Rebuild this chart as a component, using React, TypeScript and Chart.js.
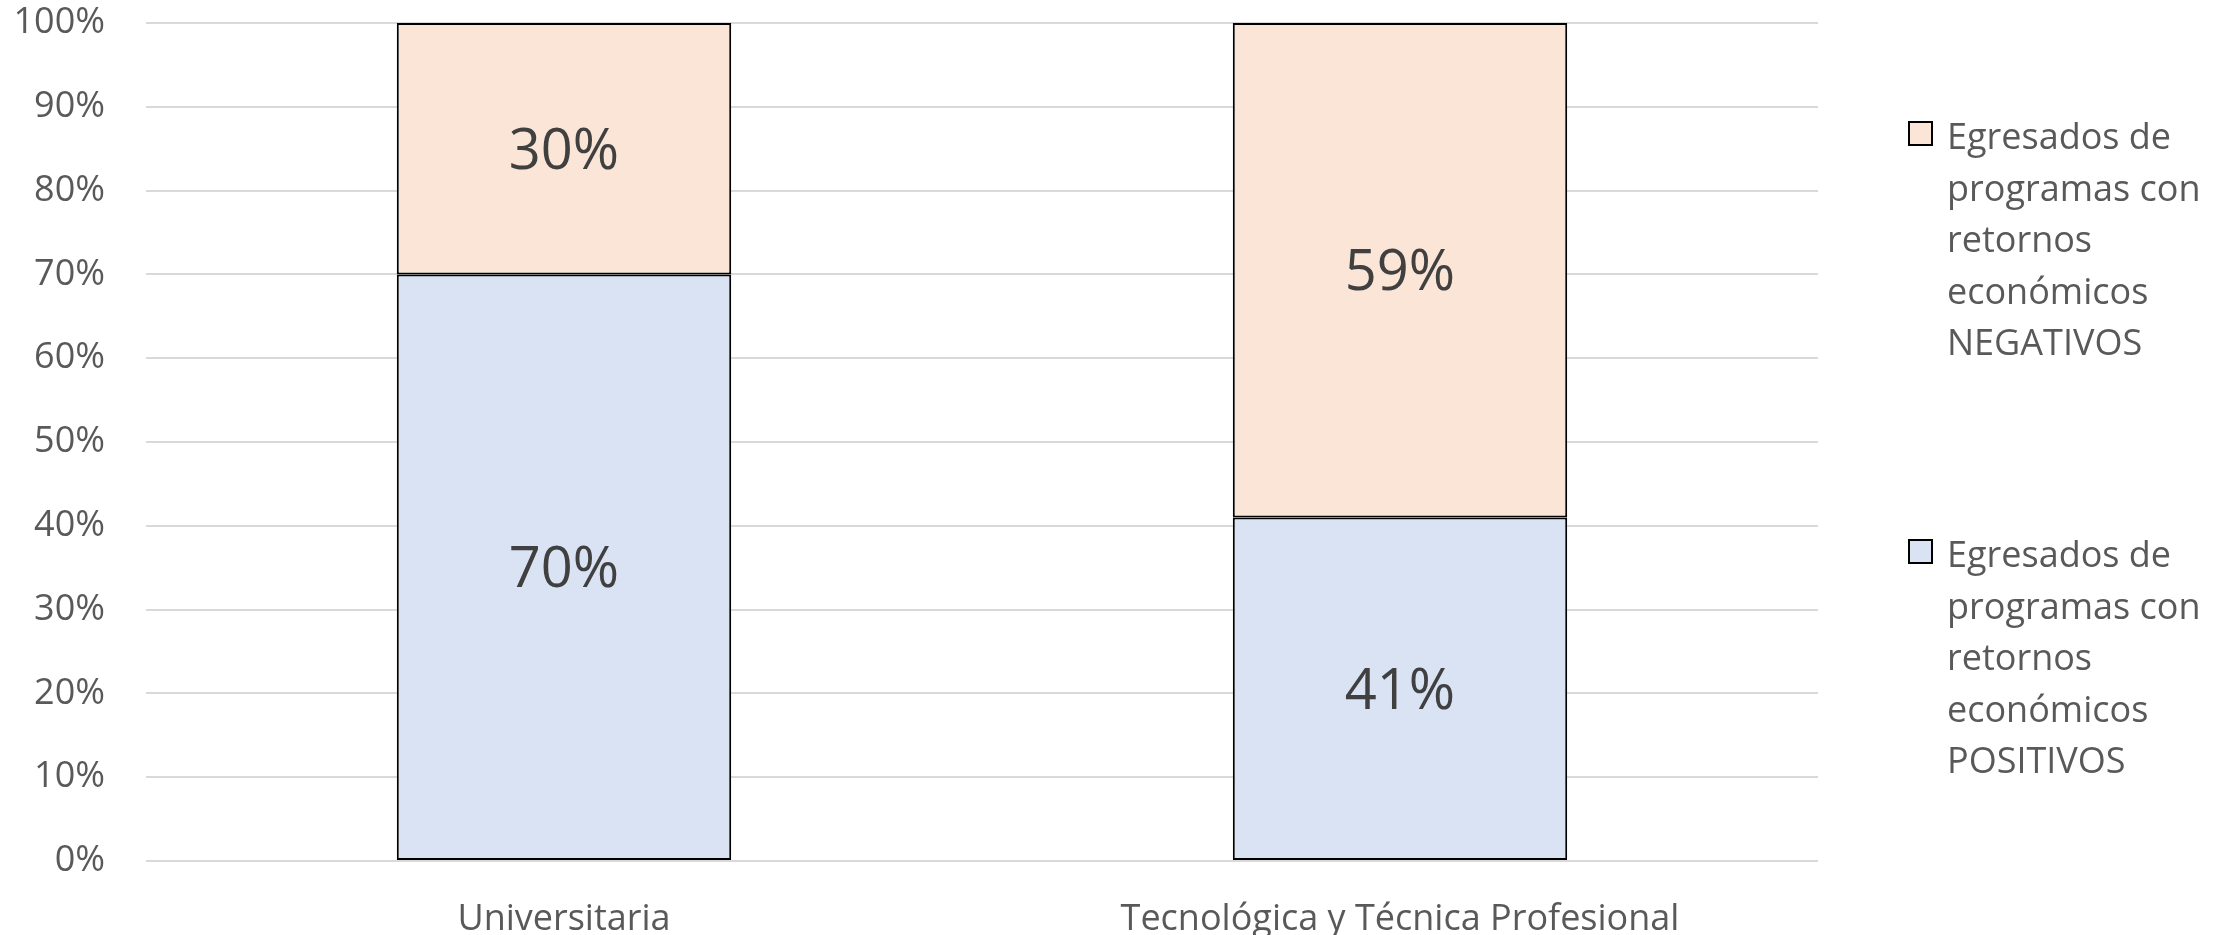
import React, { useEffect, useRef } from "react";
import { Chart, registerables } from "chart.js";

Chart.register(...registerables);

const categories = ["Universitaria", "Tecnológica y Técnica Profesional"];
const positivos = [70, 41];
const negativos = [30, 59];
const positivosLabel = ["Egresados de", "programas con", "retornos", "económicos", "POSITIVOS"];
const negativosLabel = ["Egresados de", "programas con", "retornos", "económicos", "NEGATIVOS"];
const yTicks = [0, 10, 20, 30, 40, 50, 60, 70, 80, 90, 100];

const FONT = "'Open Sans', 'Noto Sans', sans-serif";
const TEXT_GRAY = "#595959";

const dataLabelsPlugin = {
  id: "dataLabelsCustom",
  afterDatasetsDraw(chart: any) {
    const ctx = chart.ctx;
    ctx.save();
    ctx.font = `56px ${FONT}`;
    ctx.fillStyle = "#404040";
    ctx.textAlign = "center";
    ctx.textBaseline = "alphabetic";
    chart.data.datasets.forEach((ds: any, i: number) => {
      const meta = chart.getDatasetMeta(i);
      meta.data.forEach((el: any, j: number) => {
        const v = ds.data[j];
        const cy = (el.y + el.base) / 2;
        ctx.fillText(`${v}%`, el.x, cy + 20);
      });
    });
    ctx.restore();
  },
};

const legendPlugin = {
  id: "legendCustom",
  afterDraw(chart: any) {
    const ctx = chart.ctx;
    const area = chart.chartArea;
    const items = [
      { ds: chart.data.datasets[1], lines: negativosLabel, baseline: area.top + 126 },
      { ds: chart.data.datasets[0], lines: positivosLabel, baseline: area.top + 544 },
    ];
    const boxX = area.right + 91;
    const textX = area.right + 129;
    const lineH = 51.5;
    ctx.save();
    ctx.font = `36px ${FONT}`;
    ctx.textAlign = "left";
    ctx.textBaseline = "alphabetic";
    items.forEach((it) => {
      const boxTop = it.baseline - 27;
      ctx.fillStyle = it.ds.backgroundColor;
      ctx.fillRect(boxX, boxTop, 23, 23);
      ctx.lineWidth = 2;
      ctx.strokeStyle = "#000000";
      ctx.strokeRect(boxX, boxTop, 23, 23);
      ctx.fillStyle = TEXT_GRAY;
      it.lines.forEach((line, k) => {
        ctx.fillText(line, textX, it.baseline + k * lineH);
      });
    });
    ctx.restore();
  },
};

export default function App() {
  const ref = useRef<HTMLCanvasElement | null>(null);
  useEffect(() => {
    if (!ref.current) return;
    const chart = new Chart(ref.current, {
      type: "bar",
      data: {
        labels: categories,
        datasets: [
          {
            label: positivosLabel.join(" "),
            data: positivos,
            backgroundColor: "#dae3f3",
            borderColor: "#000000",
            borderWidth: 2,
            borderSkipped: false,
            barPercentage: 0.4,
            categoryPercentage: 1,
          },
          {
            label: negativosLabel.join(" "),
            data: negativos,
            backgroundColor: "#fbe5d6",
            borderColor: "#000000",
            borderWidth: 2,
            borderSkipped: false,
            barPercentage: 0.4,
            categoryPercentage: 1,
          },
        ],
      },
      options: {
        responsive: false,
        animation: false,
        layout: { autoPadding: false, padding: { top: 23, right: 408, left: 0, bottom: 0 } },
        plugins: {
          legend: { display: false },
          tooltip: { enabled: false },
        },
        scales: {
          x: {
            stacked: true,
            grid: { display: false },
            border: { display: false },
            ticks: {
              color: TEXT_GRAY,
              font: { family: FONT, size: 36 },
              padding: 29,
              maxRotation: 0,
              autoSkip: false,
            },
            afterFit: (scale: any) => {
              scale.height = 74;
              scale.paddingLeft = 0;
              scale.paddingRight = 0;
            },
          },
          y: {
            stacked: true,
            min: 0,
            max: 100,
            afterBuildTicks: (scale: any) => {
              scale.ticks = yTicks.map((v) => ({ value: v }));
            },
            grid: { color: "#d9d9d9", lineWidth: 2, drawTicks: false },
            border: { display: false },
            ticks: {
              color: TEXT_GRAY,
              font: { family: FONT, size: 36 },
              padding: 41,
              callback: (v: any) => `${v}%`,
            },
            afterFit: (scale: any) => {
              scale.width = 146;
              scale.paddingTop = 0;
              scale.paddingBottom = 0;
            },
          },
        },
      },
      plugins: [dataLabelsPlugin, legendPlugin],
    });
    return () => chart.destroy();
  }, []);
  return (
    <div style={{ position: "absolute", left: 0, top: 0, width: 2226, height: 935 }}>
      <canvas ref={ref} width={2226} height={935} style={{ width: 2226, height: 935 }} />
    </div>
  );
}
